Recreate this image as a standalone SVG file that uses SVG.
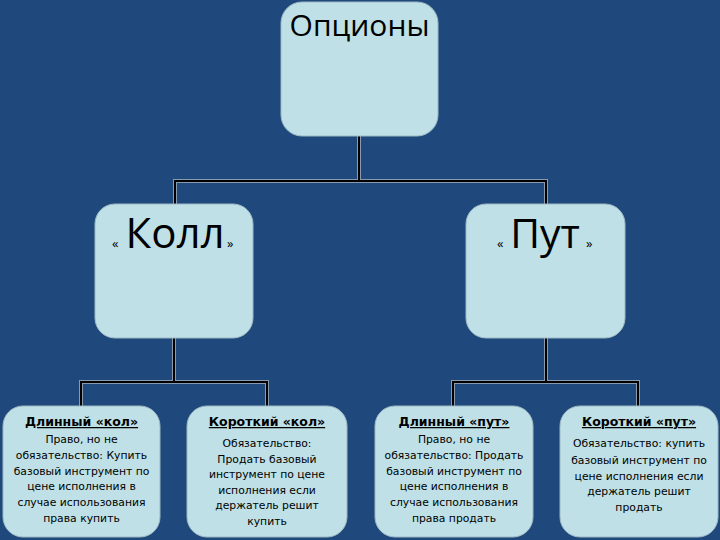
<svg xmlns="http://www.w3.org/2000/svg" width="720" height="540" viewBox="0 0 720 540">
  <style>
    .box { fill: #BEE0E6; stroke: #9FB9C4; stroke-width: 1; }
    .halo { fill: none; stroke: #8A9AAE; stroke-width: 4; }
    .wire { fill: none; stroke: #000000; stroke-width: 2; }
    .big { font-family: "Open Sans", "Liberation Sans", sans-serif; fill: #000000; text-anchor: middle; }
    .q { font-family: "Open Sans", "Liberation Sans", sans-serif; fill: #000000; font-size: 13px; }
    .ttl { font-family: "DejaVu Sans", "Liberation Sans", sans-serif; font-size: 12.5px; font-weight: bold; text-decoration: underline; fill: #000000; text-anchor: middle; }
    .txt { font-family: "DejaVu Sans", "Liberation Sans", sans-serif; font-size: 10.8px; fill: #000000; text-anchor: middle; }
  </style>
  <rect x="0" y="0" width="720" height="540" fill="#1F497D"/>

  <g id="connectors">
    <path class="halo" d="M359 136 V181 M175 204 V181 H546 V204"/>
    <path class="halo" d="M174 338 V382 M81 406 V382 H267 V406"/>
    <path class="halo" d="M546 338 V382 M453 406 V382 H638 V406"/>
    <path class="wire" d="M359 136 V181 M175 204 V181 H546 V204"/>
    <path class="wire" d="M174 338 V382 M81 406 V382 H267 V406"/>
    <path class="wire" d="M546 338 V382 M453 406 V382 H638 V406"/>
  </g>

  <g id="options">
    <rect class="box" x="281" y="2" width="157" height="134" rx="21"/>
    <text class="big" x="359.5" y="36" font-size="30">Опционы</text>
  </g>

  <g id="call">
    <rect class="box" x="95" y="204" width="158" height="134" rx="20"/>
    <text class="q" x="112" y="248">«</text>
    <text class="big" x="175" y="248" font-size="42">Колл</text>
    <text class="q" x="227" y="248">»</text>
  </g>

  <g id="put">
    <rect class="box" x="466" y="204" width="159" height="134" rx="20"/>
    <text class="q" x="497" y="248">«</text>
    <text class="big" x="545" y="248" font-size="41">Пут</text>
    <text class="q" x="586" y="248">»</text>
  </g>

  <g id="long-call">
    <rect class="box" x="3" y="406" width="157" height="131" rx="20"/>
    <text class="ttl" x="81.5" y="426">Длинный «кол»</text>
    <text class="txt" x="81.5" y="443">Право, но не</text>
    <text class="txt" x="81.5" y="459">обязательство: Купить</text>
    <text class="txt" x="81.5" y="474.5">базовый инструмент по</text>
    <text class="txt" x="81.5" y="490">цене исполнения в</text>
    <text class="txt" x="81.5" y="506">случае использования</text>
    <text class="txt" x="81.5" y="521.5">права купить</text>
  </g>

  <g id="short-call">
    <rect class="box" x="187" y="406" width="160" height="131" rx="20"/>
    <text class="ttl" x="267" y="426">Короткий «кол»</text>
    <text class="txt" x="267" y="447">Обязательство:</text>
    <text class="txt" x="267" y="462.5">Продать базовый</text>
    <text class="txt" x="267" y="478">инструмент по цене</text>
    <text class="txt" x="267" y="493.5">исполнения если</text>
    <text class="txt" x="267" y="509">держатель решит</text>
    <text class="txt" x="267" y="524.5">купить</text>
  </g>

  <g id="long-put">
    <rect class="box" x="375" y="406" width="158" height="131" rx="20"/>
    <text class="ttl" x="454" y="426">Длинный «пут»</text>
    <text class="txt" x="454" y="443">Право, но не</text>
    <text class="txt" x="454" y="459">обязательство: Продать</text>
    <text class="txt" x="454" y="474.5">базовый инструмент по</text>
    <text class="txt" x="454" y="490">цене исполнения в</text>
    <text class="txt" x="454" y="506">случае использования</text>
    <text class="txt" x="454" y="521.5">права продать</text>
  </g>

  <g id="short-put">
    <rect class="box" x="560" y="406" width="158" height="131" rx="20"/>
    <text class="ttl" x="639" y="426">Короткий «пут»</text>
    <text class="txt" x="639" y="447">Обязательство: купить</text>
    <text class="txt" x="639" y="464">базовый инструмент по</text>
    <text class="txt" x="639" y="479.5">цене исполнения если</text>
    <text class="txt" x="639" y="495">держатель решит</text>
    <text class="txt" x="639" y="511">продать</text>
  </g>
</svg>
